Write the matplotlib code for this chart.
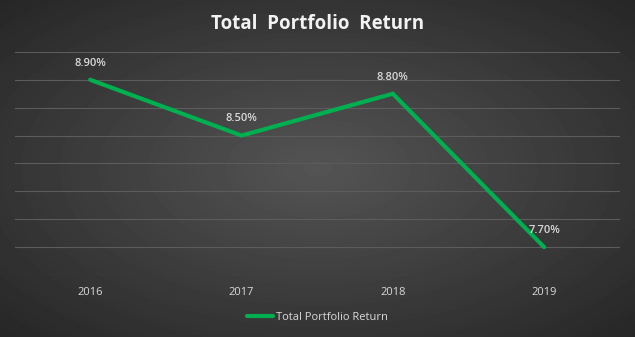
import numpy as np
import matplotlib
matplotlib.use('Agg')
import matplotlib.pyplot as plt

years = ['2016', '2017', '2018', '2019']
returns = [8.90, 8.50, 8.80, 7.70]
series_name = 'Total Portfolio Return'

plt.rcParams['font.family'] = ['Open Sans', 'DejaVu Sans']

fig = plt.figure(figsize=(6.35, 3.37), dpi=100)

# radial gradient background
bg = fig.add_axes([0, 0, 1, 1])
h, w = 337, 635
yy, xx = np.mgrid[0:h, 0:w]
r = np.sqrt(((xx - w / 2) / (w / 2)) ** 2 + ((yy - h / 2) / (h / 2)) ** 2) / np.sqrt(2)
shade = 0.33 - 0.18 * r
bg.imshow(shade, cmap='gray', vmin=0, vmax=1, aspect='auto', extent=[0, 1, 0, 1])
bg.axis('off')

ax = fig.add_axes([0.023, 0.184, 0.953, 0.662])
ax.patch.set_alpha(0)
x = np.arange(len(years))
ax.plot(x, returns, color='#00b050', lw=3, solid_capstyle='round', solid_joinstyle='miter',
        label=series_name, zorder=3)
for xi, v in zip(x, returns):
    ax.annotate(f'{v:.2f}%', (xi, v), xytext=(0, 8), textcoords='offset points',
                ha='center', va='bottom', color='#d9d9d9', fontsize=8, fontweight='semibold')

ax.set_xlim(-0.5, 3.5)
ax.set_ylim(7.5, 9.1)
ax.set_yticks(np.arange(7.5, 9.11, 0.2))
ax.set_yticklabels([])
ax.tick_params(axis='y', length=0)
ax.set_xticks(x)
ax.set_xticklabels(years, color='#d9d9d9', fontsize=8)
ax.tick_params(axis='x', length=0, pad=9)
ax.grid(axis='y', color='#5c5c5c', lw=0.8)
for s in ax.spines.values():
    s.set_visible(False)

fig.text(0.5, 0.928, 'Total  Portfolio  Return', ha='center', va='center',
         color='#f2f2f2', fontsize=13.5, fontweight='bold')

leg = ax.legend(loc='center', bbox_to_anchor=(0.5, -0.19), frameon=False,
                fontsize=8, handlelength=2.4, handletextpad=0.2)
for t in leg.get_texts():
    t.set_color('#d9d9d9')

fig.savefig('out.png', dpi=100)
